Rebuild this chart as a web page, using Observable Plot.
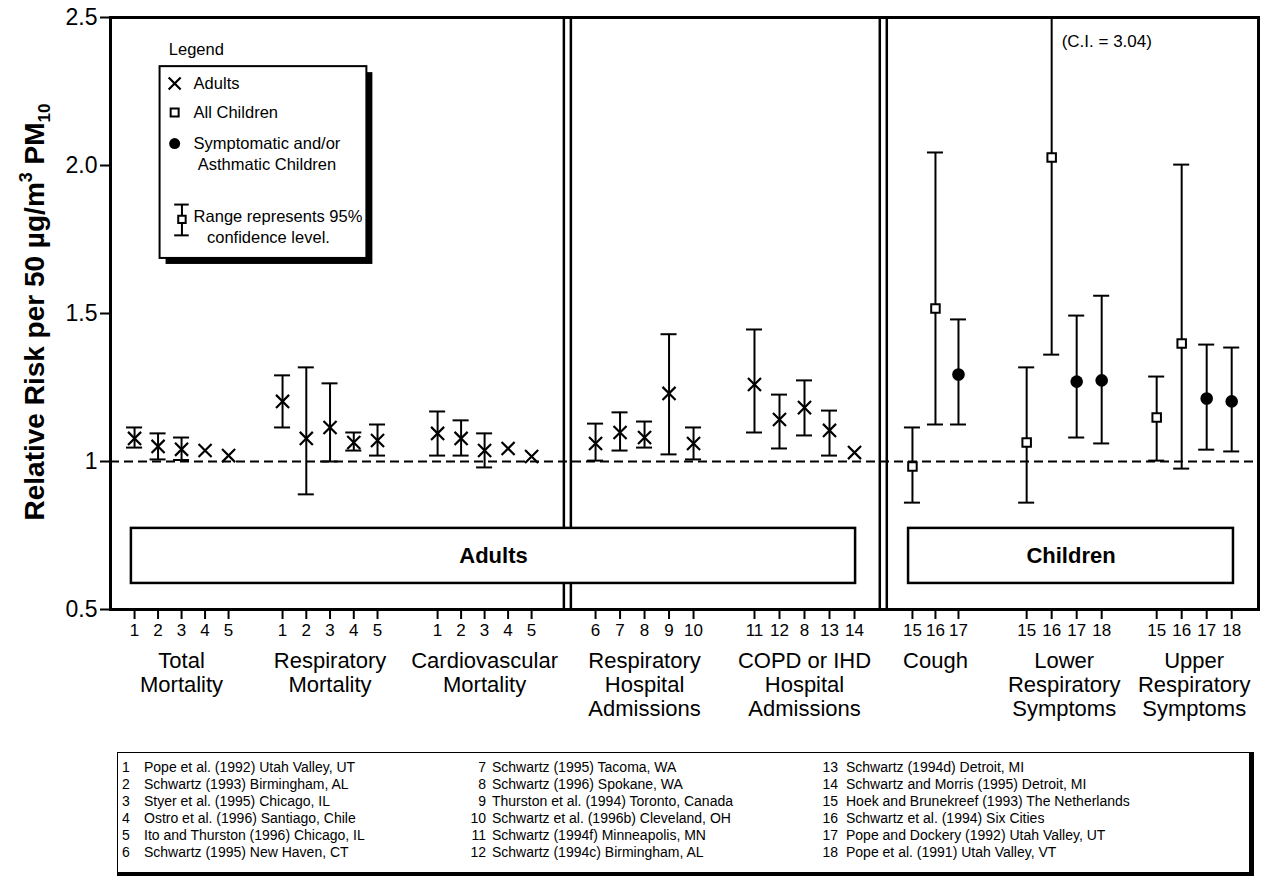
<!DOCTYPE html>
<html>
<head>
<meta charset="utf-8">
<script src="https://cdn.jsdelivr.net/npm/d3@7"></script>
<script src="https://cdn.jsdelivr.net/npm/@observablehq/plot@0.6"></script>
<style>
  body { margin: 0; background: #fff; font-family: "Liberation Sans", Arial, sans-serif; }
  #wrap { position: relative; width: 1261px; height: 878px; background: #fff; }
  #refs { position: absolute; left: 117px; top: 752px; width: 1137px; height: 124px;
          border: 1.5px solid #000; border-right-width: 5px; border-bottom-width: 4px;
          box-sizing: border-box; font-size: 14px; color: #000; }
  .col { position: absolute; top: 6px; }
  .row { height: 17px; line-height: 17px; white-space: nowrap; }
  .num { display: inline-block; }
</style>
</head>
<body>
<div id="wrap"><div id="chart"></div><div id="refs"></div></div>
<script>
// ---------------- DATA ----------------
const groupNames = [
  "Total\nMortality", "Respiratory\nMortality", "Cardiovascular\nMortality",
  "Respiratory\nHospital\nAdmissions", "COPD or IHD\nHospital\nAdmissions",
  "Cough", "Lower\nRespiratory\nSymptoms", "Upper\nRespiratory\nSymptoms"
];
const groupStudies = [
  [1, 2, 3, 4, 5], [1, 2, 3, 4, 5], [1, 2, 3, 4, 5],
  [6, 7, 8, 9, 10], [11, 12, 8, 13, 14],
  [15, 16, 17], [15, 16, 17, 18], [15, 16, 17, 18]
];
const relRisk = [
  [1.078, 1.051, 1.041, 1.037, 1.020],
  [1.203, 1.078, 1.115, 1.064, 1.071],
  [1.095, 1.078, 1.037, 1.044, 1.017],
  [1.061, 1.098, 1.081, 1.230, 1.061],
  [1.260, 1.142, 1.182, 1.105, 1.030],
  [0.983, 1.517, 1.294],
  [1.064, 2.027, 1.270, 1.274],
  [1.149, 1.399, 1.213, 1.203]
];
const ciLow = [
  [1.047, 1.007, 1.005, null, null],
  [1.115, 0.889, 1.000, 1.037, 1.020],
  [1.020, 1.020, 0.980, null, null],
  [1.003, 1.037, 1.047, 1.024, 1.007],
  [1.098, 1.044, 1.088, 1.020, null],
  [0.861, 1.125, 1.125],
  [0.861, 1.361, 1.081, 1.061],
  [1.003, 0.976, 1.040, 1.034]
];
const ciHigh = [
  [1.115, 1.095, 1.081, null, null],
  [1.291, 1.318, 1.264, 1.098, 1.125],
  [1.169, 1.139, 1.095, null, null],
  [1.128, 1.166, 1.135, 1.430, 1.115],
  [1.446, 1.226, 1.274, 1.172, null],
  [1.115, 2.044, 1.480],
  [1.318, 3.040, 1.493, 1.560],
  [1.287, 2.003, 1.395, 1.385]
];
const adultGroups = [0, 1, 2, 3, 4];
const allChildrenStudies = [15, 16];
const symptomaticStudies = [17, 18];
const yTickValues = [0.5, 1, 1.5, 2, 2.5];
const yTickLabels = ["0.5", "1", "1.5", "2.0", "2.5"];
const panelLabels = ["Adults", "Children"];
const ciNote = "(C.I. = 3.04)";
const legendTitle = "Legend";
const legendLabels = ["Adults", "All Children", "Symptomatic and/or", "Asthmatic Children",
                      "Range represents 95%", "confidence level."];
const studyRefs = [
  "Pope et al. (1992) Utah Valley, UT",
  "Schwartz (1993) Birmingham, AL",
  "Styer et al. (1995) Chicago, IL",
  "Ostro et al. (1996) Santiago, Chile",
  "Ito and Thurston (1996) Chicago, IL",
  "Schwartz (1995) New Haven, CT",
  "Schwartz (1995) Tacoma, WA",
  "Schwartz (1996) Spokane, WA",
  "Thurston et al. (1994) Toronto, Canada",
  "Schwartz et al. (1996b) Cleveland, OH",
  "Schwartz (1994f) Minneapolis, MN",
  "Schwartz (1994c) Birmingham, AL",
  "Schwartz (1994d) Detroit, MI",
  "Schwartz and Morris (1995) Detroit, MI",
  "Hoek and Brunekreef (1993) The Netherlands",
  "Schwartz et al. (1994) Six Cities",
  "Pope and Dockery (1992) Utah Valley, UT",
  "Pope et al. (1991) Utah Valley, VT"
];

// ---------------- LAYOUT (slot units on the x scale) ----------------
const xMax = 47.24;
const groupStart = [0.99, 7.08, 13.46, 19.96, 26.5, 33.0, 37.7, 43.05];
const groupStep  = [0.967, 0.977, 0.967, 1.008, 1.029, 0.947, 1.029, 1.029];
const dividers = [18.8, 31.8];
const panelX = [[0.86, 30.66], [32.84, 46.21]];
const panelY = [0.588, 0.774];
const capHalf = 0.33;

const rows = [];
groupNames.forEach((g, gi) => groupStudies[gi].forEach((s, si) => {
  rows.push({
    group: gi, study: s,
    x: groupStart[gi] + si * groupStep[gi],
    rr: relRisk[gi][si], lo: ciLow[gi][si], hi: ciHigh[gi][si],
    kind: adultGroups.includes(gi) ? "adult" : (allChildrenStudies.includes(s) ? "all" : "sym")
  });
}));
const withCI = rows.filter(d => d.lo != null);
const caps = [];
withCI.forEach(d => {
  caps.push({x: d.x, v: d.lo});
  if (d.hi <= 2.5) caps.push({x: d.x, v: d.hi});
});
const tickLabel = new Map(rows.map(d => [d.x.toFixed(4), String(d.study)]));
const groupCenters = groupNames.map((name, gi) => {
  const xs = rows.filter(d => d.group === gi).map(d => d.x);
  return {name, cx: d3.mean([d3.min(xs), d3.max(xs)])};
});
const panels = panelLabels.map((label, i) => ({label, x1: panelX[i][0], x2: panelX[i][1], y1: panelY[0], y2: panelY[1]}));
const lower16 = rows.find(d => d.group === 6 && d.study === 16);

// legend layout (in scale units)
const lg = {x1: 2.04, x2: 10.55, y1: 1.686, y2: 2.334, icon: 2.64, text: 3.42};
const legendTexts = [
  {x: 2.40, y: 2.392, t: legendTitle},
  {x: lg.text, y: 2.277, t: legendLabels[0]},
  {x: lg.text, y: 2.179, t: legendLabels[1]},
  {x: lg.text, y: 2.074, t: legendLabels[2]},
  {x: lg.text + 0.17, y: 2.003, t: legendLabels[3]},
  {x: lg.text, y: 1.826, t: legendLabels[4]},
  {x: lg.text + 0.55, y: 1.756, t: legendLabels[5]}
];
const lgErr = {x: lg.icon + 0.3, lo: 1.764, hi: 1.868, mid: 1.818};

const font = "Liberation Sans, Arial, sans-serif";

const chart = Plot.plot({
  width: 1261, height: 745,
  marginLeft: 110, marginRight: 3, marginTop: 17, marginBottom: 136,
  x: {domain: [0, xMax], axis: null},
  y: {domain: [0.5, 2.5], axis: null},
  style: {fontFamily: font, color: "black", background: "white", overflow: "visible"},
  marks: [
    Plot.ruleY([1], {stroke: "black", strokeWidth: 2, strokeDasharray: "9,5"}),
    Plot.ruleX(dividers, {x: d => d, dx: -3.5, strokeWidth: 2.5}),
    Plot.ruleX(dividers, {x: d => d, dx: 3.5, strokeWidth: 2.5}),
    Plot.rect(panels, {x1: "x1", x2: "x2", y1: "y1", y2: "y2", fill: "white", stroke: "black", strokeWidth: 2.5}),
    Plot.text(panels, {x: d => (d.x1 + d.x2) / 2, y: d => (d.y1 + d.y2) / 2, text: "label", fontWeight: "bold", fontSize: 22}),
    // CI bars
    Plot.ruleX(withCI, {x: "x", y1: "lo", y2: "hi", strokeWidth: 2, clip: true}),
    Plot.ruleY(caps, {y: "v", x1: d => d.x - capHalf, x2: d => d.x + capHalf, strokeWidth: 2}),
    // points
    Plot.dot(rows.filter(d => d.kind === "adult"), {x: "x", y: "rr", symbol: "times", r: 6, stroke: "black", strokeWidth: 2.2}),
    Plot.dot(rows.filter(d => d.kind === "all"), {x: "x", y: "rr", symbol: "square", r: 4.8, fill: "white", stroke: "black", strokeWidth: 2}),
    Plot.dot(rows.filter(d => d.kind === "sym"), {x: "x", y: "rr", r: 6.3, fill: "black", stroke: "none"}),
    Plot.text([ciNote], {x: lower16.x, y: 2.42, text: d => d, textAnchor: "start", dx: 10, fontSize: 17}),
    // legend
    Plot.rect([lg], {x1: "x1", x2: "x2", y1: "y1", y2: "y2", fill: "black", dx: 6, dy: 6}),
    Plot.rect([lg], {x1: "x1", x2: "x2", y1: "y1", y2: "y2", fill: "white", stroke: "black", strokeWidth: 2}),
    Plot.text(legendTexts, {x: "x", y: "y", text: "t", textAnchor: "start", fontSize: 16.5}),
    Plot.dot([{x: lg.icon, y: 2.277}], {x: "x", y: "y", symbol: "times", r: 5.5, stroke: "black", strokeWidth: 2.2}),
    Plot.dot([{x: lg.icon, y: 2.179}], {x: "x", y: "y", symbol: "square", r: 4.5, fill: "white", stroke: "black", strokeWidth: 2}),
    Plot.dot([{x: lg.icon, y: 2.074}], {x: "x", y: "y", r: 5.5, fill: "black"}),
    Plot.ruleX([lgErr], {x: "x", y1: "lo", y2: "hi", strokeWidth: 2}),
    Plot.ruleY([lgErr.lo, lgErr.hi], {y: d => d, x1: lgErr.x - 0.3, x2: lgErr.x + 0.3, strokeWidth: 2}),
    Plot.dot([lgErr], {x: "x", y: "mid", symbol: "square", r: 4.2, fill: "white", stroke: "black", strokeWidth: 2}),
    // axes
    Plot.axisY({ticks: yTickValues, tickFormat: d => yTickLabels[yTickValues.indexOf(d)], tickSize: 10, tickPadding: 3, fontSize: 23, strokeWidth: 2, label: null}),
    Plot.axisX({ticks: rows.map(d => d.x), tickFormat: d => tickLabel.get((+d).toFixed(4)), tickSize: 10, tickPadding: 4, fontSize: 17, strokeWidth: 2, label: null}),
    Plot.text(groupCenters, {x: "cx", text: "name", frameAnchor: "bottom", lineAnchor: "top", dy: 41, fontSize: 22, lineHeight: 1.1}),
    Plot.frame({stroke: "black", strokeWidth: 3})
  ]
});
document.getElementById("chart").appendChild(chart);

// y-axis title with superscript / subscript
const svg = d3.select(chart);
const yt = svg.append("text")
  .attr("transform", "translate(44,312) rotate(-90)")
  .attr("text-anchor", "middle")
  .attr("font-family", font)
  .attr("font-weight", "bold")
  .attr("font-size", 28)
  .attr("fill", "black");
yt.append("tspan").text("Relative Risk per 50 µg/m");
yt.append("tspan").attr("dy", -12).attr("font-size", 18).text("3");
yt.append("tspan").attr("dy", 12).text(" PM");
yt.append("tspan").attr("dy", 6).attr("font-size", 17).text("10");

// reference list
const refs = d3.select("#refs");
const colLeft = [4, 344, 700];
const numW = [16, 24, 20];
const numGap = [6, 6, 8];
for (let c = 0; c < 3; c++) {
  const col = refs.append("div").attr("class", "col").style("left", colLeft[c] + "px");
  for (let r = 0; r < 6; r++) {
    const i = c * 6 + r;
    const row = col.append("div").attr("class", "row");
    row.append("span").attr("class", "num")
      .style("width", numW[c] + "px").style("text-align", c === 0 ? "left" : "right")
      .style("margin-right", numGap[c] + "px").text(i + 1);
    row.append("span").text(studyRefs[i]);
  }
}
</script>
</body>
</html>
